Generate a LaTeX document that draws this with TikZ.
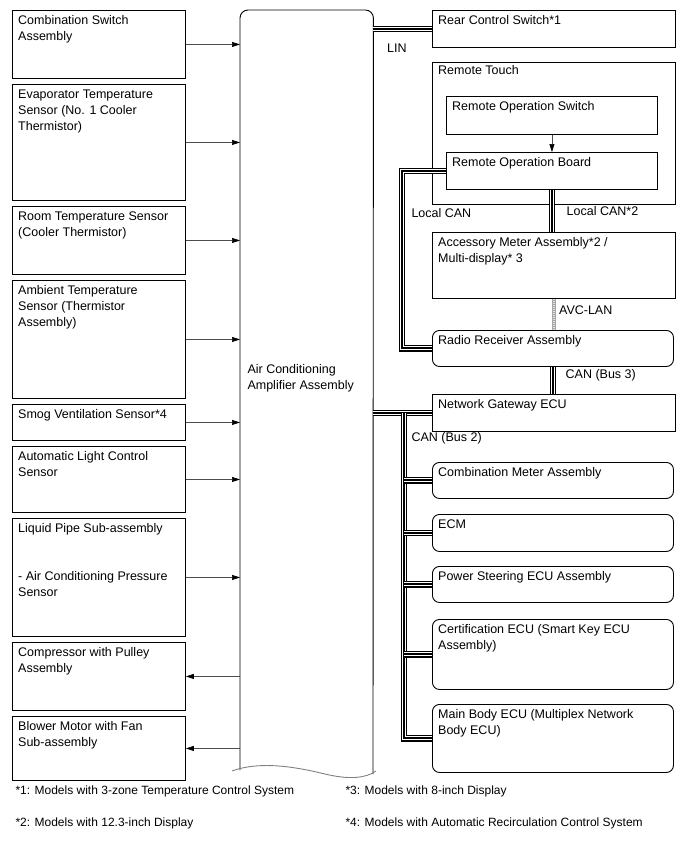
\documentclass[tikz,border=0pt]{standalone}
\usepackage{fontspec}
\setmainfont{Liberation Sans}
\usepackage{tikz}
\usetikzlibrary{arrows.meta, calc}
\tikzset{
    box/.style={draw, line width=0.9pt, anchor=north west, inner sep=0pt},
    lhs/.style={box, minimum width=173, minimum height=#1},
    rhs/.style={box, minimum width=243, minimum height=#1},
    ecu/.style={box, rounded corners=7pt, minimum width=241, minimum height=#1},
    tag/.style={anchor=north west, align=left, inner xsep=6pt, inner ysep=5.5pt},
    note/.style={anchor=west, font=\fontsize{12}{14}\selectfont},
    sig/.style={-{Triangle[length=8pt, width=5pt, color=black]}, draw=black!70, line width=0.7pt},
    bus/.style={draw=black, line width=6.8pt, postaction={draw=white, line width=4pt},
        postaction={draw=black, line width=2pt}},
    avc/.style={draw=gray!70, line width=3.6pt, postaction={draw=gray!20, line width=1.6pt, dash pattern=on 1pt off 1pt}}
}

\begin{document}
\begin{tikzpicture}[x=1pt, y=-1pt, font=\fontsize{12.5}{16}\selectfont]
    \useasboundingbox (0,0) rectangle (688,852);
    % sensors and actuators
    \node[lhs=68, label={[tag]north west:{Combination Switch\\Assembly}}] (cs) at (12,10) {};
    \node[lhs=116, label={[tag]north west:{Evaporator Temperature\\Sensor (No. 1 Cooler\\Thermistor)}}] (evap) at (12,84) {};
    \node[lhs=68, label={[tag]north west:{Room Temperature Sensor\\(Cooler Thermistor)}}] (room) at (12,206) {};
    \node[lhs=118, label={[tag]north west:{Ambient Temperature\\Sensor (Thermistor\\Assembly)}}] (amb) at (12,280) {};
    \node[lhs=36, label={[tag]north west:{Smog Ventilation Sensor*4}}] (smog) at (12,404) {};
    \node[lhs=66, label={[tag]north west:{Automatic Light Control\\Sensor}}] (light) at (12,446) {};
    \node[lhs=118, label={[tag]north west:{Liquid Pipe Sub-assembly\\[32pt]- Air Conditioning Pressure\\Sensor}}] (pipe) at (12,518) {};
    \node[lhs=68, label={[tag]north west:{Compressor with Pulley\\Assembly}}] (comp) at (12,642) {};
    \node[lhs=64, label={[tag]north west:{Blower Motor with Fan\\Sub-assembly}}] (blow) at (12,716) {};

    % amplifier
    \node[anchor=north west, inner sep=0pt, minimum width=133, minimum height=760] (amp) at (240,10) {};
    \draw[line width=0.9pt, rounded corners=8pt] (240,770) -- (amp.north west) -- (amp.north east) -- (373,774);
    \draw[gray, line width=0.9pt] (232,771) .. controls (262,760) and (300,768) .. (325,774)
        .. controls (350,780) and (366,778) .. (376,771);
    \node[anchor=west, align=left] (ampname) at (244,378) {Air Conditioning\\Amplifier Assembly};

    % network side
    \node[rhs=37, label={[tag]north west:{Rear Control Switch*1}}] (rcs) at (432,10) {};
    \node[rhs=142, label={[tag, inner ysep=3pt]north west:{Remote Touch}}] (rt) at (432,62) {};
    \node[box, minimum width=211, minimum height=38, label={[tag]north west:{Remote Operation Switch}}] (ros) at (446,96) {};
    \node[box, minimum width=211, minimum height=37, label={[tag]north west:{Remote Operation Board}}] (rob) at (446,152) {};
    \node[rhs=66, label={[tag]north west:{Accessory Meter Assembly*2 /\\Multi-display* 3}}] (acc) at (432,232) {};
    \node[ecu=36, label={[tag]north west:{Radio Receiver Assembly}}] (radio) at (432,330) {};
    \node[rhs=37, label={[tag]north west:{Network Gateway ECU}}] (gw) at (432,394) {};
    \node[ecu=36, label={[tag]north west:{Combination Meter Assembly}}] (cm) at (432,462) {};
    \node[ecu=37, label={[tag]north west:{ECM}}] (ecm) at (432,514) {};
    \node[ecu=36, label={[tag]north west:{Power Steering ECU Assembly}}] (ps) at (432,566) {};
    \node[ecu=70, label={[tag]north west:{Certification ECU (Smart Key ECU\\Assembly)}}] (cert) at (432,619) {};
    \node[ecu=68, label={[tag]north west:{Main Body ECU (Multiplex Network\\Body ECU)}}] (mb) at (432,704) {};

    % buses
    \draw[bus] (amp.east |- rcs.west) -- node[below=8pt, pos=0.4] (lin) {LIN} (rcs.west);
    \draw[bus] (rob.west) -- ++(-44,0) |- (radio.west);
    \node[anchor=west] (lcan) at (408,213) {Local CAN};
    \draw[bus] (rob.south) -- node[right=8pt] (lcan2) {Local CAN*2} (rob.south |- acc.north);
    \draw[avc] (acc.south) -- node[right, pos=0.35] (avclan) {AVC-LAN} (acc.south |- radio.north);
    \draw[bus] (radio.south) -- node[right=6pt, pos=0.3] (can3) {CAN (Bus 3)} (radio.south |- gw.north);
    \draw[bus] (amp.east |- gw.west) -- (gw.west);
    \coordinate (trunk) at ($(gw.west)+(-28,0)$);
    \draw[bus] (trunk) |- (mb.west);
    \foreach \e in {cm, ecm, ps, cert}
        \draw[bus] (trunk |- \e.west) -- (\e.west);
    \node[anchor=west] (can2) at (408,438) {CAN (Bus 2)};

    % signals
    \foreach \s in {cs, evap, room, amb, smog, light, pipe}
        \draw[sig] (\s.east) -- (\s.east -| amp.west);
    \foreach \a in {comp, blow}
        \draw[sig] (\a.east -| amp.west) -- (\a.east);
    \draw[sig] (ros.south) -- (rob.north);

    % notes
    \node[note] (n1) at (12,791) {*1: Models with 3-zone Temperature Control System};
    \node[note] (n3) at (342,791) {*3: Models with 8-inch Display};
    \node[note] (n2) at (12,823) {*2: Models with 12.3-inch Display};
    \node[note] (n4) at (342,823) {*4: Models with Automatic Recirculation Control System};
\end{tikzpicture}
\end{document}
